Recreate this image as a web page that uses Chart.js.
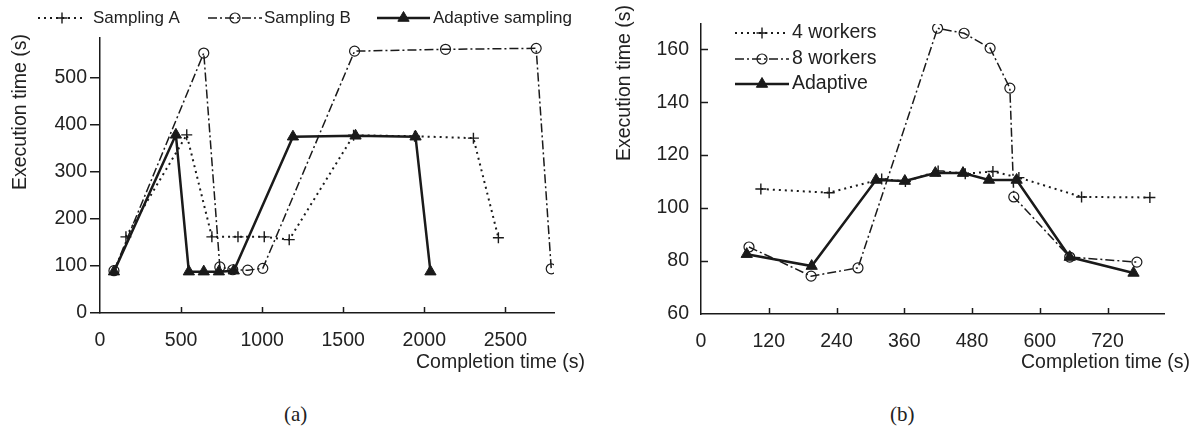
<!DOCTYPE html>
<html><head><meta charset="utf-8">
<script src="https://cdn.jsdelivr.net/npm/chart.js@4/dist/chart.umd.min.js"></script>
<style>
html,body{margin:0;padding:0;background:#fff;width:1196px;height:430px;overflow:hidden;}
canvas{position:absolute;top:0;}
#ca{left:0;} #cb{left:598px;}
.cap{position:absolute;top:402px;height:22px;line-height:22px;font:21px 'Liberation Serif',serif;color:#222;}
</style></head><body>
<canvas id="ca" width="598" height="385"></canvas>
<canvas id="cb" width="598" height="385"></canvas>
<div class="cap" style="left:284px">(a)</div>
<div class="cap" style="left:890px">(b)</div>
<script>
// ---- Chart (a) data ----
const xTicksA = [0, 500, 1000, 1500, 2000, 2500];
const yTicksA = [0, 100, 200, 300, 400, 500];
const samplingA_x = [160, 535, 690, 851, 1013, 1167, 1564, 1940, 2303, 2457];
const samplingA_y = [162, 379, 162, 162, 162, 156, 378, 376, 372, 160];
const samplingB_x = [86, 640, 739, 819, 911, 1004, 1570, 2131, 2690, 2783];
const samplingB_y = [90, 553, 98, 92, 91, 95, 557, 561, 563, 94];
const adaptiveA_x = [86, 468, 548, 640, 733, 825, 1190, 1576, 1946, 2038];
const adaptiveA_y = [88, 379, 88, 88, 88, 90, 375, 377, 375, 88];

// ---- Chart (b) data ----
const xTicksB = [0, 120, 240, 360, 480, 600, 720];
const yTicksB = [60, 80, 100, 120, 140, 160];
const workers4_x = [106, 227, 320, 362, 420, 468, 517, 563, 674, 795];
const workers4_y = [107.2, 105.8, 111, 110, 114, 113, 113.8, 111.5, 104.2, 104];
const workers8_x = [85, 195, 278, 419, 466, 512, 547, 554, 653, 772];
const workers8_y = [85.3, 74.3, 77.4, 167.9, 166, 160.4, 145.3, 104.2, 81.5, 79.6];
const adaptiveB_x = [81, 196, 310, 361, 415, 464, 510, 559, 653, 766];
const adaptiveB_y = [82.6, 78.1, 110.6, 110.2, 113.2, 113.2, 110.6, 110.6, 81.5, 75.5];

const INK = '#1a1a1a';
const FONT = "'Liberation Sans', Arial, sans-serif";

const STYLE_DOT = {dash: [2, 4], lw: 2, ps: 'cross', pr: 5.5, pbw: 1.4, fill: 'rgba(0,0,0,0)'};
const STYLE_DASHDOT = {dash: [9, 3, 2, 3], lw: 1.5, ps: 'circle', pr: 5, pbw: 1.2, fill: 'rgba(0,0,0,0)'};
const STYLE_SOLID = {dash: [], lw: 2.5, ps: 'triangle', pr: 6.5, pbw: 1, fill: INK};

function drawMarker(ctx, s, cx, cy) {
  ctx.save();
  ctx.setLineDash([]);
  ctx.strokeStyle = INK; ctx.fillStyle = s.fill; ctx.lineWidth = s.pbw;
  const r = s.pr;
  ctx.beginPath();
  if (s.ps === 'circle') {
    ctx.arc(cx, cy, r, 0, Math.PI * 2);
    ctx.stroke();
  } else if (s.ps === 'triangle') {
    let a = 0;
    ctx.moveTo(cx + Math.sin(a) * r, cy - Math.cos(a) * r);
    a += 2 * Math.PI / 3; ctx.lineTo(cx + Math.sin(a) * r, cy - Math.cos(a) * r);
    a += 2 * Math.PI / 3; ctx.lineTo(cx + Math.sin(a) * r, cy - Math.cos(a) * r);
    ctx.closePath(); ctx.fill(); ctx.stroke();
  } else {
    ctx.moveTo(cx - r, cy); ctx.lineTo(cx + r, cy);
    ctx.moveTo(cx, cy - r); ctx.lineTo(cx, cy + r);
    ctx.stroke();
  }
  ctx.restore();
}

function makeDeco(cfg) {
  return {
    id: 'deco',
    afterDraw(chart) {
      const ctx = chart.ctx, xs = chart.scales.x, ys = chart.scales.y, area = chart.chartArea;
      ctx.save();
      ctx.strokeStyle = INK; ctx.lineWidth = 1.5; ctx.setLineDash([]);
      xs.ticks.forEach(t => {
        if (t.value === xs.min) return;
        const px = Math.round(xs.getPixelForValue(t.value)) + 0.5;
        ctx.beginPath(); ctx.moveTo(px, area.bottom); ctx.lineTo(px, area.bottom - 6); ctx.stroke();
      });
      if (cfg.yInward) {
        ys.ticks.forEach(t => {
          if (t.value === ys.min) return;
          const py = Math.round(ys.getPixelForValue(t.value)) + 0.5;
          ctx.beginPath(); ctx.moveTo(area.left, py); ctx.lineTo(area.left + 7, py); ctx.stroke();
        });
      }
      ctx.fillStyle = '#222';
      ctx.font = '19.5px ' + FONT;
      // y title
      ctx.save();
      ctx.translate(cfg.yTitle.x, cfg.yTitle.y);
      ctx.rotate(-Math.PI / 2);
      ctx.textAlign = 'center'; ctx.textBaseline = 'middle';
      ctx.fillText('Execution time (s)', 0, 0);
      ctx.restore();
      // x title
      ctx.textAlign = 'right'; ctx.textBaseline = 'middle';
      ctx.fillText('Completion time (s)', cfg.xTitle.x, cfg.xTitle.y);
      // legend
      ctx.textAlign = 'left';
      ctx.font = cfg.legendFont + 'px ' + FONT;
      cfg.legend.forEach((L, i) => {
        const s = cfg.series[i];
        ctx.save();
        ctx.strokeStyle = INK; ctx.lineWidth = s.lw; ctx.setLineDash(s.dash);
        ctx.beginPath(); ctx.moveTo(L.x0, L.y); ctx.lineTo(L.x1, L.y); ctx.stroke();
        ctx.restore();
        drawMarker(ctx, s, (L.x0 + L.x1) / 2, L.y);
        ctx.fillStyle = '#222';
        ctx.fillText(s.label, L.tx, L.y);
      });
      ctx.restore();
    }
  };
}

function makeChart(id, cfg) {
  const datasets = cfg.series.map(s => ({
    label: s.label,
    data: s.x.map((x, i) => ({x: x, y: s.y[i]})),
    borderColor: INK, backgroundColor: s.fill, borderWidth: s.lw, borderDash: s.dash,
    pointStyle: s.ps, pointRadius: s.pr, pointHoverRadius: s.pr, pointBorderWidth: s.pbw,
    pointBackgroundColor: s.fill, pointBorderColor: INK,
    tension: 0, fill: false, showLine: true
  }));
  const tickFont = {family: FONT, size: 19.5};
  const plain = v => String(v);
  return new Chart(document.getElementById(id), {
    type: 'line',
    data: {datasets},
    options: {
      responsive: false, animation: false, events: [],
      layout: {padding: cfg.padding},
      plugins: {legend: {display: false}, title: {display: false}, tooltip: {enabled: false}},
      scales: {
        x: {
          type: 'linear', min: cfg.xMin, max: cfg.xMax,
          afterBuildTicks: sc => { sc.ticks = cfg.xTicks.map(v => ({value: v})); },
          afterFit: sc => { sc.height = 40; },
          grid: {display: true, drawOnChartArea: false, drawTicks: false},
          border: {display: true, color: INK, width: 1.5},
          ticks: {padding: 16, color: '#222', font: tickFont, maxRotation: 0, autoSkip: false, callback: plain}
        },
        y: {
          type: 'linear', min: cfg.yMin, max: cfg.yMax,
          afterBuildTicks: sc => { sc.ticks = cfg.yTicks.map(v => ({value: v})); },
          afterFit: sc => { sc.width = cfg.yWidth; },
          grid: cfg.yInward
            ? {display: true, drawOnChartArea: false, drawTicks: false}
            : {display: true, drawOnChartArea: false, drawTicks: true, tickLength: 10, color: INK, lineWidth: 1.5},
          border: {display: true, color: INK, width: 1.5},
          ticks: {padding: cfg.yInward ? 12 : 3, color: '#222', font: tickFont, autoSkip: false, callback: plain}
        }
      }
    },
    plugins: [makeDeco(cfg)]
  });
}

makeChart('ca', {
  xMin: 0, xMax: 2800, yMin: 0, yMax: 585,
  xTicks: xTicksA, yTicks: yTicksA, yWidth: 100, yInward: false,
  padding: {left: 0, top: 38, right: 44, bottom: 32},
  yTitle: {x: 21, y: 112}, xTitle: {x: 585, y: 363},
  legendFont: 17,
  series: [
    Object.assign({label: 'Sampling A', x: samplingA_x, y: samplingA_y}, STYLE_DOT),
    Object.assign({label: 'Sampling B', x: samplingB_x, y: samplingB_y}, STYLE_DASHDOT),
    Object.assign({label: 'Adaptive sampling', x: adaptiveA_x, y: adaptiveA_y}, STYLE_SOLID)
  ],
  legend: [
    {x0: 38, x1: 86, y: 18, tx: 93},
    {x0: 208, x1: 262, y: 18, tx: 264},
    {x0: 377, x1: 430, y: 18, tx: 433}
  ]
});

makeChart('cb', {
  xMin: 0, xMax: 820, yMin: 60, yMax: 169.5,
  xTicks: xTicksB, yTicks: yTicksB, yWidth: 103, yInward: true,
  padding: {left: 0, top: 24, right: 32, bottom: 31},
  yTitle: {x: 27, y: 83}, xTitle: {x: 592, y: 363},
  legendFont: 19.5,
  series: [
    Object.assign({label: '4 workers', x: workers4_x, y: workers4_y}, STYLE_DOT),
    Object.assign({label: '8 workers', x: workers8_x, y: workers8_y}, STYLE_DASHDOT),
    Object.assign({label: 'Adaptive', x: adaptiveB_x, y: adaptiveB_y}, STYLE_SOLID)
  ],
  legend: [
    {x0: 137, x1: 191, y: 33, tx: 194},
    {x0: 137, x1: 191, y: 59, tx: 194},
    {x0: 137, x1: 191, y: 84, tx: 194}
  ]
});
</script>
</body></html>
